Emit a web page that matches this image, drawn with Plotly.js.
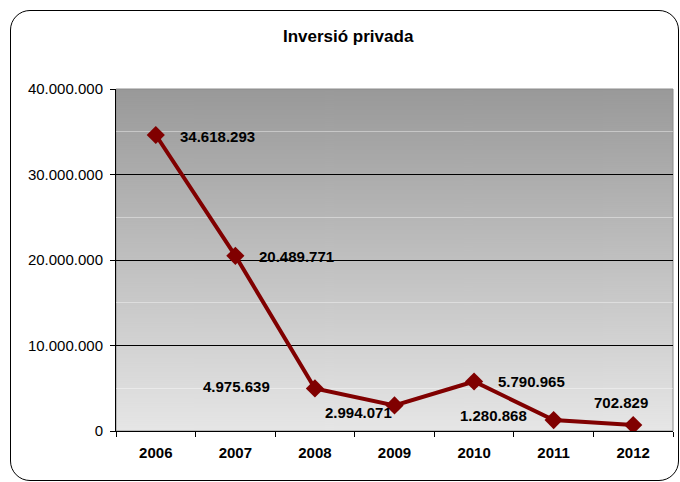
<!DOCTYPE html>
<html>
<head>
<meta charset="utf-8">
<script src="https://cdn.plot.ly/plotly-3.0.1.min.js"></script>
<style>
  html, body { margin: 0; padding: 0; background: #fff; }
  #wrap { position: relative; width: 680px; height: 482px; }
  #chart { position: absolute; left: 0; top: 0; width: 680px; height: 482px; }
  #frame { position: absolute; left: 10px; top: 10px; width: 667px; height: 469px;
           border: 1.5px solid #000; border-radius: 20px; pointer-events: none; }
</style>
</head>
<body>
<div id="wrap">
  <div id="chart"></div>
  <div id="frame"></div>
</div>
<script>
// ---- data ----
const years = ['2006', '2007', '2008', '2009', '2010', '2011', '2012'];
const values = [34618293, 20489771, 4975639, 2994071, 5790965, 1280868, 702829];
const labels = ['34.618.293', '20.489.771', '4.975.639', '2.994.071', '5.790.965', '1.280.868', '702.829'];
const yTicks = [0, 10000000, 20000000, 30000000, 40000000];
const yTickText = ['0', '10.000.000', '20.000.000', '30.000.000', '40.000.000'];

// label placement (style only)
const labelPos = [
  {xanchor: 'left',   xshift: 22,  yshift: -1},
  {xanchor: 'left',   xshift: 22,  yshift: -1},
  {xanchor: 'right',  xshift: -43, yshift: 2},
  {xanchor: 'right',  xshift: -1,  yshift: -7},
  {xanchor: 'left',   xshift: 22,  yshift: 0},
  {xanchor: 'right',  xshift: -25, yshift: 5},
  {xanchor: 'center', xshift: -12, yshift: 22}
];

// gradient background image
function gradientURI() {
  const c = document.createElement('canvas');
  c.width = 4; c.height = 342;
  const g = c.getContext('2d');
  const grd = g.createLinearGradient(0, 0, 0, 342);
  grd.addColorStop(0, '#999999');
  grd.addColorStop(1, '#e6e6e6');
  g.fillStyle = grd;
  g.fillRect(0, 0, 4, 342);
  return c.toDataURL();
}

const font = 'Liberation Sans, Arial, sans-serif';

const trace = {
  x: years,
  y: values,
  type: 'scatter',
  mode: 'lines+markers',
  line: {color: '#800000', width: 4},
  marker: {symbol: 'diamond', size: 14, color: '#800000'},
  hoverinfo: 'skip'
};

// category axis: annotation x given as the category's serial index
const annotations = years.map((yr, i) => Object.assign({
  x: years.indexOf(yr), y: values[i], xref: 'x', yref: 'y',
  text: '<b>' + labels[i] + '</b>',
  showarrow: false,
  yanchor: 'middle',
  font: {family: font, size: 15, color: '#000'}
}, labelPos[i]));

const layout = {
  width: 680, height: 482,
  margin: {l: 116, r: 7, t: 89, b: 51},
  paper_bgcolor: 'rgba(0,0,0,0)',
  plot_bgcolor: '#e6e6e6',
  showlegend: false,
  title: {
    text: '<b>Inversió privada</b>',
    font: {family: font, size: 17, color: '#000'},
    xref: 'container', x: 0.512, xanchor: 'center',
    yref: 'container', y: 0.925, yanchor: 'middle'
  },
  xaxis: {
    type: 'category',
    tickson: 'boundaries',
    ticks: 'outside', ticklen: 5, tickcolor: '#000', tickwidth: 1,
    showgrid: false, zeroline: false,
    showline: true, linecolor: '#000', linewidth: 1,
    tickfont: {family: font, size: 15, color: '#000', weight: 'bold'},
    ticklabelstandoff: 8,
    range: [-0.5, 6.5]
  },
  yaxis: {
    range: [0, 40000000],
    tickvals: yTicks, ticktext: yTickText,
    ticks: 'outside', ticklen: 5, tickcolor: '#000', tickwidth: 1,
    showgrid: true, gridcolor: '#000', gridwidth: 1,
    zeroline: false,
    showline: true, linecolor: '#000', linewidth: 1,
    tickfont: {family: font, size: 15, color: '#000'},
    minor: {dtick: 5000000, showgrid: true, gridcolor: 'rgba(255,255,255,0.4)', gridwidth: 1, ticks: ''},
    ticklabelstandoff: 4
  },
  images: [{
    source: gradientURI(),
    xref: 'paper', yref: 'paper', x: 0, y: 1, sizex: 1, sizey: 1,
    sizing: 'stretch', layer: 'below', xanchor: 'left', yanchor: 'top'
  }],
  shapes: [{
    type: 'rect', xref: 'paper', yref: 'paper', x0: 0, x1: 1, y0: 0, y1: 1,
    line: {color: '#8c8c8c', width: 1}, fillcolor: 'rgba(0,0,0,0)', layer: 'below'
  }],
  annotations: annotations
};

Plotly.newPlot('chart', [trace], layout, {displayModeBar: false, staticPlot: true});
</script>
</body>
</html>
